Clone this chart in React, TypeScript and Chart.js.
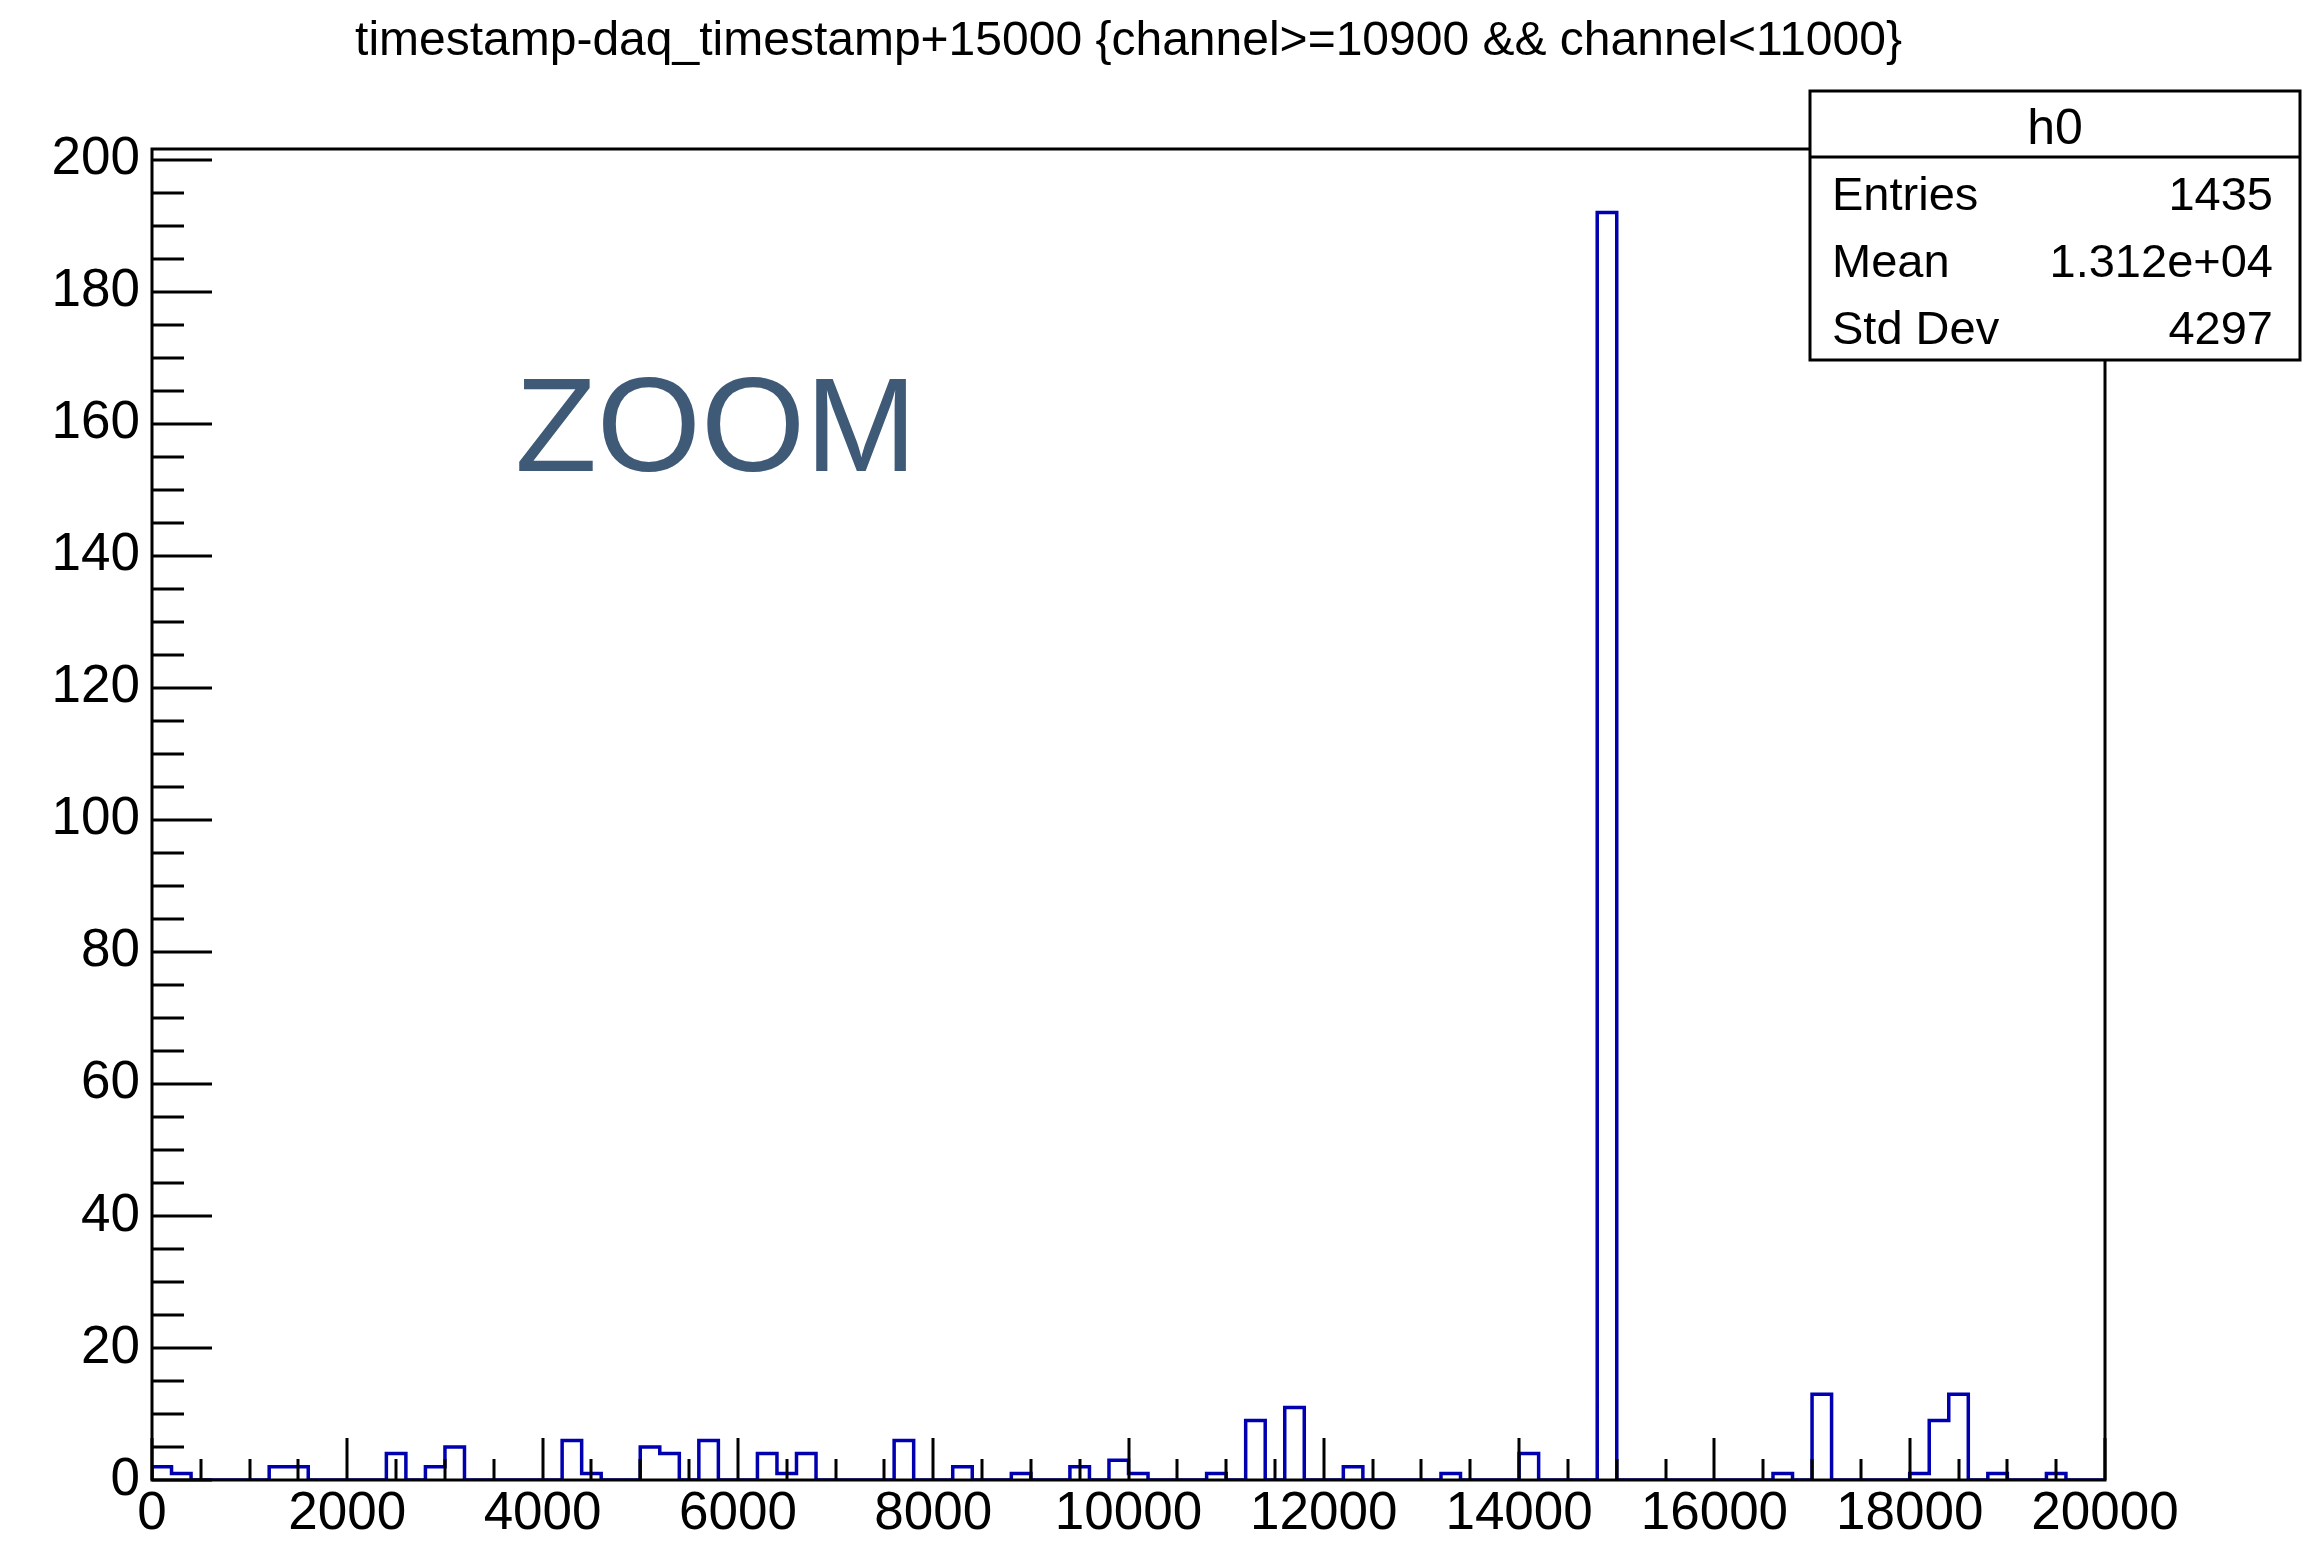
import React, { useEffect, useRef } from "react";
import { Chart, registerables } from "chart.js";

Chart.register(...registerables);

// ---------- data ----------
const TITLE = "timestamp-daq_timestamp+15000 {channel>=10900 && channel<11000}";
const X_MIN = 0;
const X_MAX = 20000;
const BIN_WIDTH = 200;
const Y_MIN = 0;
const Y_MAX = 201.6;

// 100 bins of 200 each, 0..20000
const binCounts = [
  2, 1, 0, 0, 0, 0, 2, 2, 0, 0,
  0, 0, 4, 0, 2, 5, 0, 0, 0, 0,
  0, 6, 1, 0, 0, 5, 4, 0, 6, 0,
  0, 4, 1, 4, 0, 0, 0, 0, 6, 0,
  0, 2, 0, 0, 1, 0, 0, 2, 0, 3,
  1, 0, 0, 0, 1, 0, 9, 0, 11, 0,
  0, 2, 0, 0, 0, 0, 1, 0, 0, 0,
  4, 0, 0, 0, 192, 0, 0, 0, 0, 0,
  0, 0, 0, 1, 0, 13, 0, 0, 0, 0,
  1, 9, 13, 0, 1, 0, 0, 1, 0, 0,
];

const X_MAJOR_STEP = 2000;
const X_MINOR_STEP = 500;
const Y_MAJOR_STEP = 20;
const Y_MINOR_STEP = 5;
const Y_TICK_TOP = 200;

const STATS_NAME = "h0";
const statsLabels = ["Entries", "Mean", "Std Dev"];
const statsValues = ["1435", "1.312e+04", "4297"];

const OVERLAY_TEXT = "ZOOM";

// ---------- style ----------
const W = 2310;
const H = 1549;
const FONT = "'Liberation Sans', Arial, Helvetica, sans-serif";
const LINE_COLOR = "#0000b0";

const histPoints: { x: number; y: number }[] = [{ x: X_MIN, y: 0 }];
binCounts.forEach((c, i) => histPoints.push({ x: X_MIN + i * BIN_WIDTH, y: c }));
histPoints.push({ x: X_MAX, y: 0 });

const frameTicksPlugin = {
  id: "rootFrame",
  afterDatasetsDraw(chart: any) {
    const { ctx, chartArea: a, scales } = chart;
    const xs = scales.x;
    const ys = scales.y;
    ctx.save();
    ctx.strokeStyle = "#000";
    ctx.lineWidth = 3;
    ctx.lineCap = "butt";
    ctx.beginPath();
    for (let v = X_MIN; v <= X_MAX; v += X_MINOR_STEP) {
      const px = Math.round(xs.getPixelForValue(v));
      const len = v % X_MAJOR_STEP === 0 ? 42 : 21;
      ctx.moveTo(px, a.bottom);
      ctx.lineTo(px, a.bottom - len);
    }
    for (let v = Y_MIN; v <= Y_TICK_TOP; v += Y_MINOR_STEP) {
      const py = Math.round(ys.getPixelForValue(v));
      const len = v % Y_MAJOR_STEP === 0 ? 60 : 32;
      ctx.moveTo(a.left, py);
      ctx.lineTo(a.left + len, py);
    }
    ctx.stroke();
    ctx.strokeRect(a.left, a.top, a.right - a.left, a.bottom - a.top);
    ctx.restore();
  },
  afterDraw(chart: any) {
    const { ctx } = chart;
    ctx.save();
    // stats box
    const bx = 1810, by = 91, bw = 490, bh = 269, div = 157;
    ctx.fillStyle = "#fff";
    ctx.fillRect(bx, by, bw, bh);
    ctx.strokeStyle = "#000";
    ctx.lineWidth = 3;
    ctx.strokeRect(bx, by, bw, bh);
    ctx.beginPath();
    ctx.moveTo(bx, div);
    ctx.lineTo(bx + bw, div);
    ctx.stroke();
    ctx.fillStyle = "#000";
    ctx.textBaseline = "alphabetic";
    ctx.font = `50px ${FONT}`;
    ctx.textAlign = "center";
    ctx.fillText(STATS_NAME, bx + bw / 2, 144);
    ctx.font = `47px ${FONT}`;
    const baselines = [210, 277, 344];
    statsLabels.forEach((lab, i) => {
      ctx.textAlign = "left";
      ctx.fillText(lab, 1832, baselines[i]);
      ctx.textAlign = "right";
      ctx.fillText(statsValues[i], 2273, baselines[i]);
    });
    // overlay text
    ctx.fillStyle = "#3e5a77";
    ctx.font = `134px ${FONT}`;
    ctx.textAlign = "left";
    ctx.fillText(OVERLAY_TEXT, 515, 471);
    ctx.restore();
  },
};

export default function App() {
  const ref = useRef<HTMLCanvasElement>(null);
  useEffect(() => {
    if (!ref.current) return;
    const chart = new Chart(ref.current, {
      type: "line",
      data: {
        datasets: [
          {
            data: histPoints,
            borderColor: LINE_COLOR,
            borderWidth: 3.5,
            pointRadius: 0,
            pointHoverRadius: 0,
            fill: false,
            stepped: true,
            tension: 0,
          },
        ],
      },
      options: {
        responsive: false,
        animation: false,
        devicePixelRatio: 1,
        layout: { padding: { left: 0, right: 205, top: 0, bottom: 0 } },
        plugins: {
          legend: { display: false },
          tooltip: { enabled: false },
          title: {
            display: true,
            text: TITLE,
            fullSize: false,
            color: "#000",
            font: { family: FONT, size: 48, weight: "normal" },
            padding: { top: 13, bottom: 78.4 },
          },
        },
        scales: {
          x: {
            type: "linear",
            min: X_MIN,
            max: X_MAX,
            grid: { display: false, drawTicks: false },
            border: { display: false },
            ticks: {
              stepSize: X_MAJOR_STEP,
              autoSkip: false,
              maxRotation: 0,
              includeBounds: false,
              padding: 3,
              color: "#000",
              font: { family: FONT, size: 53 },
              callback: (v: any) => String(v),
            },
            afterFit: (s: any) => {
              s.height = 69;
            },
          },
          y: {
            type: "linear",
            min: Y_MIN,
            max: Y_MAX,
            grid: { display: false, drawTicks: false },
            border: { display: false },
            ticks: {
              stepSize: Y_MAJOR_STEP,
              autoSkip: false,
              includeBounds: false,
              padding: 12,
              color: "#000",
              font: { family: FONT, size: 53 },
              callback: (v: any) => String(v),
            },
            afterFit: (s: any) => {
              s.width = 152;
            },
          },
        },
      },
      plugins: [frameTicksPlugin],
    } as any);
    return () => chart.destroy();
  }, []);
  return (
    <div style={{ position: "fixed", left: 0, top: 0, width: W, height: H, background: "#fff" }}>
      <canvas ref={ref} width={W} height={H} style={{ width: W, height: H, display: "block" }} />
    </div>
  );
}
